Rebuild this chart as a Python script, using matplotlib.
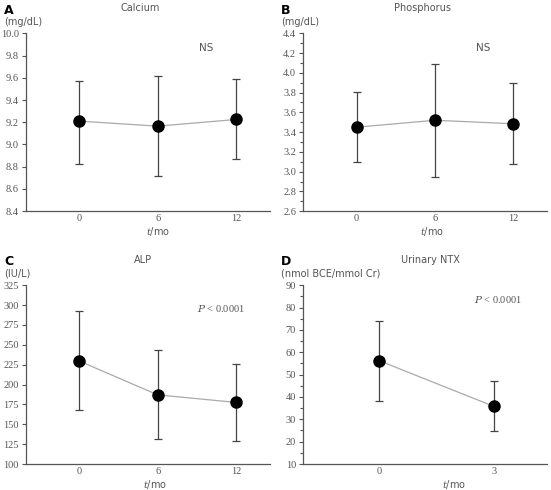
"""Serum calcium, phosphorus, ALP and urinary NTX over time."""

import matplotlib
matplotlib.use("Agg")
import matplotlib.pyplot as plt
from matplotlib.ticker import MultipleLocator

plt.rcParams["font.family"] = "DejaVu Sans"
plt.rcParams["mathtext.fontset"] = "dejavuserif"

# panel A: calcium (mg/dL)
ca_time = [0, 6, 12]
ca_mean = [9.21, 9.165, 9.225]
ca_upper = [9.575, 9.62, 9.59]
ca_lower = [8.825, 8.715, 8.865]

# panel B: phosphorus (mg/dL)
p_time = [0, 6, 12]
p_mean = [3.45, 3.52, 3.485]
p_upper = [3.81, 4.09, 3.90]
p_lower = [3.10, 2.95, 3.08]

# panel C: ALP (IU/L)
alp_time = [0, 6, 12]
alp_mean = [229.5, 187.0, 177.5]
alp_upper = [292.0, 244.0, 226.0]
alp_lower = [168.0, 131.0, 129.5]

# panel D: urinary NTX (nmol BCE/mmol Cr)
ntx_time = [0, 3]
ntx_mean = [56.2, 35.8]
ntx_upper = [74.2, 47.3]
ntx_lower = [38.3, 24.6]

GREY = "#555555"
SERIF = "Liberation Serif"
panels = [
    dict(letter="A", title="Calcium", unit="(mg/dL)", t=ca_time, m=ca_mean,
         hi=ca_upper, lo=ca_lower, ylim=(8.4, 10.0), step=0.2, minor=None,
         fmt="{:.1f}", note="NS", note_xy=(0.74, 0.92), tx=0.47, lx=0.54,
         xlim=(-4.1, 14.6), rect=[0.047, 0.569, 0.443, 0.363]),
    dict(letter="B", title="Phosphorus", unit="(mg/dL)", t=p_time, m=p_mean,
         hi=p_upper, lo=p_lower, ylim=(2.6, 4.4), step=0.2, minor=0.1,
         fmt="{:.1f}", note="NS", note_xy=(0.74, 0.92), tx=0.49, lx=0.53,
         xlim=(-4.1, 14.6), rect=[0.550, 0.569, 0.443, 0.363]),
    dict(letter="C", title="ALP", unit="(IU/L)", t=alp_time, m=alp_mean,
         hi=alp_upper, lo=alp_lower, ylim=(100, 325), step=25, minor=None,
         fmt="{:.0f}", note="$P$ < 0.0001", note_xy=(0.80, 0.87), tx=0.48,
         lx=0.53, xlim=(-4.1, 14.6), rect=[0.047, 0.053, 0.443, 0.365]),
    dict(letter="D", title="Urinary NTX", unit="(nmol BCE/mmol Cr)", t=ntx_time,
         m=ntx_mean, hi=ntx_upper, lo=ntx_lower, ylim=(10, 90), step=10,
         minor=5, fmt="{:.0f}", note="$P$ < 0.0001", note_xy=(0.80, 0.92),
         tx=0.52, lx=0.62, xlim=(-2.0, 4.4), rect=[0.550, 0.053, 0.443, 0.365]),
]

fig = plt.figure(figsize=(5.51, 4.90), dpi=100)

for p in panels:
    ax = fig.add_axes(p["rect"])
    yerr = [[m - lo for m, lo in zip(p["m"], p["lo"])],
            [hi - m for m, hi in zip(p["m"], p["hi"])]]
    ax.plot(p["t"], p["m"], color="#aaaaaa", lw=0.9, zorder=1)
    ax.errorbar(p["t"], p["m"], yerr=yerr, fmt="none", ecolor="#444444",
                elinewidth=0.9, capsize=3, capthick=0.9, zorder=2)
    ax.plot(p["t"], p["m"], "o", color="black", ms=8, zorder=3)

    ax.set_xlim(*p["xlim"])
    ax.set_ylim(*p["ylim"])
    ax.set_xticks(p["t"])
    ax.set_xticklabels([str(v) for v in p["t"]], family=SERIF,
                       fontsize=7.5, color=GREY)
    ax.yaxis.set_major_locator(MultipleLocator(p["step"]))
    if p["minor"]:
        ax.yaxis.set_minor_locator(MultipleLocator(p["minor"]))
    ticks = ax.get_yticks()
    ticks = [v for v in ticks if p["ylim"][0] - 1e-9 <= v <= p["ylim"][1] + 1e-9]
    ax.set_yticks(ticks)
    ax.set_yticklabels([p["fmt"].format(v) for v in ticks],
                       family=SERIF, fontsize=7.5, color=GREY)
    ax.tick_params(axis="x", length=0, pad=2)
    ax.tick_params(axis="y", which="major", length=3, width=0.8,
                   color=GREY, pad=2)
    ax.tick_params(axis="y", which="minor", length=2, width=0.8, color=GREY)

    for side in ("top", "right"):
        ax.spines[side].set_visible(False)
    for side in ("left", "bottom"):
        ax.spines[side].set_color(GREY)
        ax.spines[side].set_linewidth(0.9)

    ax.text(p["tx"], 1.14, p["title"], transform=ax.transAxes,
            ha="center", va="center", fontsize=7, color=GREY)
    ax.text(-0.09, 1.065, p["unit"], transform=ax.transAxes,
            ha="left", va="center", fontsize=7, color=GREY)
    ax.text(-0.09, 1.13, p["letter"], transform=ax.transAxes,
            ha="left", va="center", fontsize=9, fontweight="bold")
    ax.text(p["note_xy"][0], p["note_xy"][1], p["note"], transform=ax.transAxes,
            ha="center", va="center", fontsize=7.5, color=GREY,
            family=SERIF if p["note"] != "NS" else "DejaVu Sans")
    ax.text(p["lx"], -0.115, "$t$/mo", transform=ax.transAxes,
            ha="center", va="center", fontsize=7, color=GREY)

fig.savefig("out.png", dpi=100)
plt.close(fig)
